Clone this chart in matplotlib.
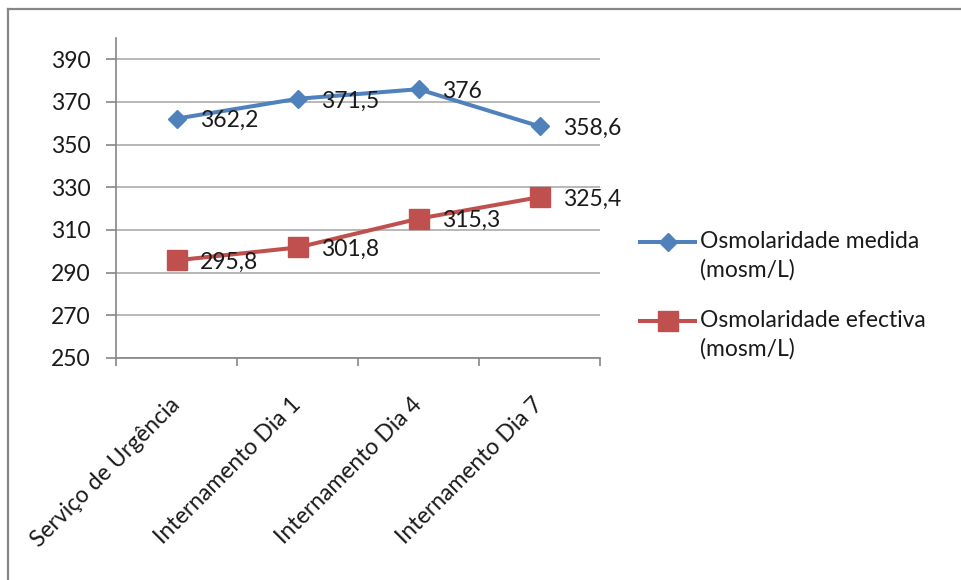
import matplotlib
matplotlib.use("Agg")
import matplotlib.pyplot as plt
from matplotlib.lines import Line2D
from matplotlib.legend_handler import HandlerLine2D

plt.rcParams['font.family'] = ['Lato', 'DejaVu Sans']

categories = ["Serviço de Urgência", "Internamento Dia 1", "Internamento Dia 4", "Internamento Dia 7"]
medida = [362.2, 371.5, 376, 358.6]
efectiva = [295.8, 301.8, 315.3, 325.4]
medida_labels = ["362,2", "371,5", "376", "358,6"]
efectiva_labels = ["295,8", "301,8", "315,3", "325,4"]
y_ticks = [250, 270, 290, 310, 330, 350, 370, 390]

FS = 16.5
TXT = "#1a1a1a"
LINESPACING = 1.38
W, H = 962, 580
fig = plt.figure(figsize=(W / 100, H / 100), dpi=100)

# chart frame (top and left edges visible)
fig.add_artist(Line2D([8 / W, 8 / W], [0, 1 - 9 / H], transform=fig.transFigure, color="#878787", lw=1.6))
fig.add_artist(Line2D([8 / W, 1], [1 - 9 / H, 1 - 9 / H], transform=fig.transFigure, color="#878787", lw=1.6))

ax = fig.add_axes([116 / W, 1 - 358 / H, (600 - 116) / W, (358 - 38) / H])

blue = "#4F81BD"
red = "#C0504D"
x = range(len(categories))

ax.plot(x, medida, color=blue, lw=2.9, marker="D", ms=8.8, mec=blue, mfc=blue,
        label="Osmolaridade medida\n(mosm/L)", zorder=3)
ax.plot(x, efectiva, color=red, lw=2.9, marker="s", ms=14, mec=red, mfc=red,
        label="Osmolaridade efectiva\n(mosm/L)", zorder=3)

for xi, v, t in zip(x, medida, medida_labels):
    ax.annotate(t, (xi, v), xytext=(17, -1.5), textcoords="offset points",
                ha="left", va="center", fontsize=FS, color=TXT, zorder=4)
for xi, v, t in zip(x, efectiva, efectiva_labels):
    ax.annotate(t, (xi, v), xytext=(17, -1.5), textcoords="offset points",
                ha="left", va="center", fontsize=FS, color=TXT, zorder=4)

ax.set_xlim(-0.5, len(categories) - 0.5)
ax.set_ylim(250, 400)
ax.set_yticks(y_ticks)
ax.set_yticklabels([str(v) for v in y_ticks], fontsize=FS, color=TXT)
ax.yaxis.grid(True, color="#ababab", lw=1.2)
ax.set_axisbelow(True)

ax.set_xticks([i - 0.5 for i in range(len(categories) + 1)])
ax.set_xticklabels([])
ax.set_xticks(list(x), minor=True)
ax.set_xticklabels(categories, minor=True, rotation=45, ha="right", va="center",
                   rotation_mode="anchor", fontsize=FS, color=TXT)
ax.tick_params(axis="x", which="minor", length=0, pad=31)
ax.tick_params(axis="x", which="major", length=6, color="#868686", width=1.2, direction="out")
ax.tick_params(axis="y", length=7, color="#868686", width=1.2, direction="out", pad=11)

for s in ["top", "right"]:
    ax.spines[s].set_visible(False)
for s in ["left", "bottom"]:
    ax.spines[s].set_color("#868686")
    ax.spines[s].set_linewidth(1.2)


class FirstLineHandler(HandlerLine2D):
    """Legend handle aligned with the first line of a two-line label."""
    def create_artists(self, legend, orig_handle, xdescent, ydescent, width, height, fontsize, trans):
        arts = super().create_artists(legend, orig_handle, xdescent, ydescent, width, height, fontsize, trans)
        shift = 0.63 * fontsize
        for a in arts:
            xd, yd = a.get_data()
            a.set_data(xd, [y + shift for y in yd])
        return arts


handles, labels = ax.get_legend_handles_labels()
leg = fig.legend(handles, labels, loc="upper left", bbox_to_anchor=(640 / W, 1 - 231 / H),
                 frameon=False, fontsize=FS, handlelength=2.4, handletextpad=0.2,
                 labelspacing=1.3, borderpad=0, borderaxespad=0, labelcolor=TXT,
                 handler_map={Line2D: FirstLineHandler()})
for t in leg.get_texts():
    t.set_linespacing(LINESPACING)

fig.savefig("out.png", dpi=100, facecolor="white")
